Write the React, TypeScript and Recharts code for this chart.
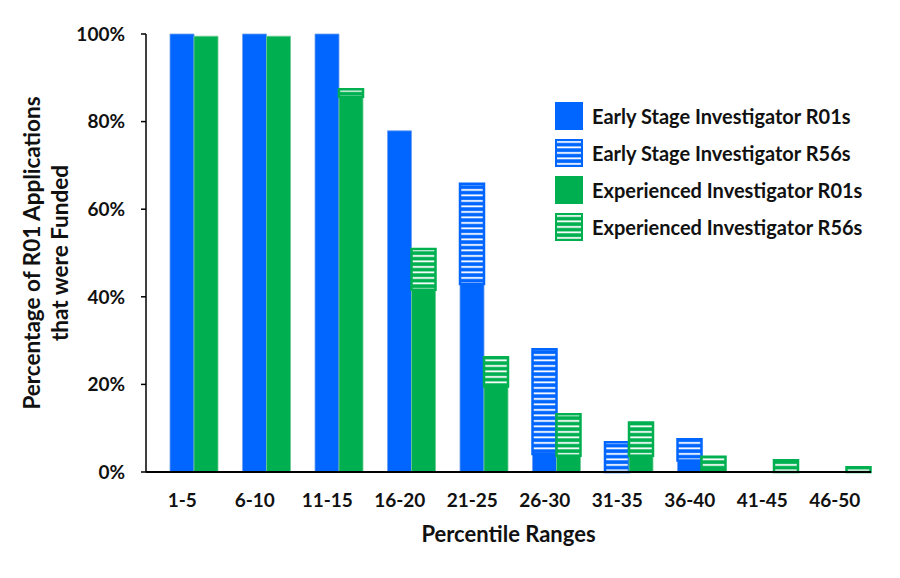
import React from 'react';
import { BarChart, Bar, XAxis, YAxis, Label } from 'recharts';

const categories = ['1-5', '6-10', '11-15', '16-20', '21-25', '26-30', '31-35', '36-40', '41-45', '46-50'];
const earlyR01 = [100, 100, 100, 77.9, 42.9, 4.1, 0, 2.6, 0, 0];
const earlyR56 = [0, 0, 0, 0, 22.9, 23.9, 6.8, 4.9, 0, 0];
const expR01 = [99.5, 99.5, 85.7, 41.6, 19.5, 3.7, 3.7, 0.5, 0, 0];
const expR56 = [0, 0, 1.7, 9.3, 6.7, 9.5, 7.6, 3.0, 2.7, 1.1];
// empty series that keeps the left third of each category free, as in the original
const spacer = categories.map(() => 0);
const yTicks = [0, 20, 40, 60, 80, 100];

const BLUE = '#0066FF';
const GREEN = '#00B050';
const FONT = 'Lato, "Open Sans", sans-serif';

const data = categories.map((name, i) => ({
  name,
  spacer: spacer[i],
  earlyR01: earlyR01[i],
  earlyR56: earlyR56[i],
  expR01: expR01[i],
  expR56: expR56[i],
}));

const legendItems = [
  { label: 'Early Stage Investigator R01s', fill: BLUE, stroke: BLUE },
  { label: 'Early Stage Investigator R56s', fill: 'url(#hatchBlue)', stroke: BLUE },
  { label: 'Experienced Investigator R01s', fill: GREEN, stroke: GREEN },
  { label: 'Experienced Investigator R56s', fill: 'url(#hatchGreen)', stroke: GREEN },
];

const LegendBox = () => (
  <div style={{ position: 'absolute', left: 555, top: 97, fontFamily: FONT }}>
    {legendItems.map((it) => (
      <div key={it.label} style={{ display: 'flex', alignItems: 'center', height: 37 }}>
        <svg width={28} height={28} style={{ marginRight: 9 }}>
          <rect x={1} y={1} width={26} height={26} fill={it.fill} stroke={it.stroke} strokeWidth={2} />
        </svg>
        <span style={{ fontSize: 20, fontWeight: 700, color: '#111', whiteSpace: 'nowrap' }}>{it.label}</span>
      </div>
    ))}
  </div>
);

const YTitle = (props: any) => {
  const { viewBox } = props;
  const cy = viewBox.y + viewBox.height / 2;
  return (
    <text transform={`translate(40, ${cy}) rotate(-90)`} textAnchor="middle" fontFamily={FONT} fontWeight={700} fontSize={22.5} fill="#111">
      <tspan x={0} dy={0}>Percentage of R01 Applications</tspan>
      <tspan x={0} dy={28}>that were Funded</tspan>
    </text>
  );
};

export default function App() {
  const tick = { fontFamily: FONT, fontWeight: 700, fontSize: 19, fill: '#111' };
  return (
    <div style={{ position: 'absolute', left: 0, top: 0, width: 900, height: 578, background: '#fff' }}>
      <BarChart
        width={900}
        height={578}
        data={data}
        margin={{ top: 34, right: 29, bottom: 76, left: 86 }}
        barCategoryGap={0}
        barGap={0}
      >
        <defs>
          <pattern id="hatchBlue" patternUnits="userSpaceOnUse" width={8} height={5.5}>
            <rect width={8} height={5.5} fill={BLUE} />
            <rect y={2} width={8} height={1.8} fill="#fff" />
          </pattern>
          <pattern id="hatchGreen" patternUnits="userSpaceOnUse" width={8} height={5.5}>
            <rect width={8} height={5.5} fill={GREEN} />
            <rect y={2} width={8} height={1.8} fill="#fff" />
          </pattern>
        </defs>
        <XAxis
          dataKey="name"
          height={30}
          tickLine={false}
          tickSize={0}
          axisLine={{ stroke: '#000', strokeWidth: 2 }}
          tick={tick}
          tickMargin={22}
          interval={0}
        >
          <Label value="Percentile Ranges" position="bottom" offset={24} style={{ fontFamily: FONT, fontWeight: 700, fontSize: 22, fill: '#111' }} />
        </XAxis>
        <YAxis
          width={60}
          domain={[0, 100]}
          ticks={yTicks}
          tickFormatter={(v) => `${v}%`}
          axisLine={{ stroke: '#000', strokeWidth: 1.5 }}
          tickLine={{ stroke: '#000', strokeWidth: 1.5 }}
          tickSize={5}
          tickMargin={16}
          tick={tick}
          interval={0}
        >
          <Label content={<YTitle />} />
        </YAxis>
        <Bar dataKey="spacer" stackId="s" fill="none" isAnimationActive={false} legendType="none" />
        <Bar dataKey="earlyR01" stackId="e" fill={BLUE} stroke="#6f9ef0" strokeWidth={0.8} isAnimationActive={false} />
        <Bar dataKey="earlyR56" stackId="e" fill="url(#hatchBlue)" stroke={BLUE} strokeWidth={2.5} isAnimationActive={false} />
        <Bar dataKey="expR01" stackId="x" fill={GREEN} stroke="#6fc995" strokeWidth={0.8} isAnimationActive={false} />
        <Bar dataKey="expR56" stackId="x" fill="url(#hatchGreen)" stroke={GREEN} strokeWidth={2.5} isAnimationActive={false} />
      </BarChart>
      <LegendBox />
    </div>
  );
}
